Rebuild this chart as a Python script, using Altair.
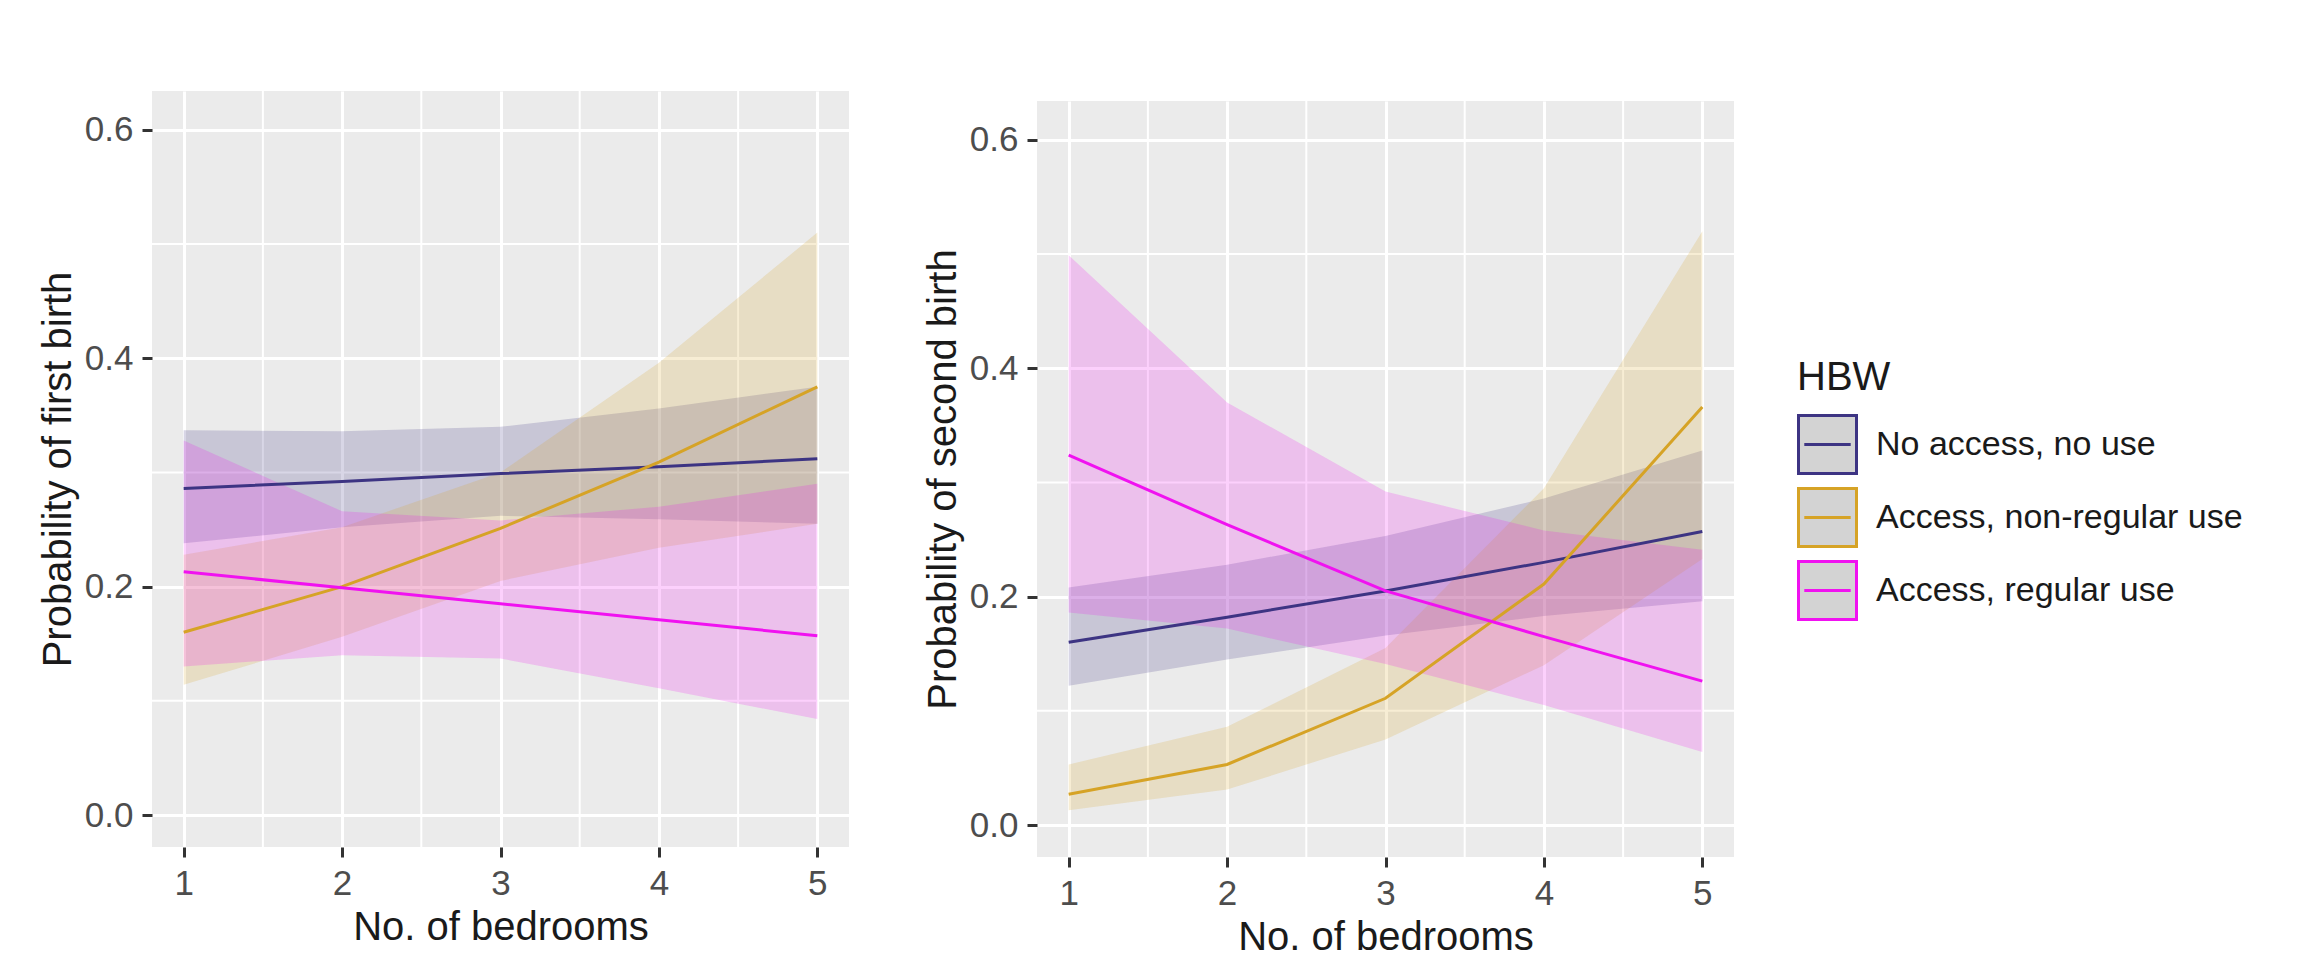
import altair as alt
import pandas as pd

# ---------------- data ----------------
groups = ["No access, no use", "Access, non-regular use", "Access, regular use"]
colors = ["#3D3483", "#D6A326", "#F012F0"]
bedrooms = [1, 2, 3, 4, 5]

y_ticks = [0.0, 0.2, 0.4, 0.6]
minor_x = [1.5, 2.5, 3.5, 4.5]
minor_y = [0.1, 0.3, 0.5]

# Panel 1: probability of first birth
first_noaccess_fit = [0.286, 0.292, 0.299, 0.305, 0.312]
first_noaccess_lo = [0.238, 0.252, 0.262, 0.259, 0.255]
first_noaccess_hi = [0.337, 0.336, 0.340, 0.356, 0.375]

first_nonreg_fit = [0.160, 0.200, 0.251, 0.309, 0.375]
first_nonreg_lo = [0.114, 0.156, 0.205, 0.234, 0.255]
first_nonreg_hi = [0.228, 0.252, 0.300, 0.396, 0.510]

first_reg_fit = [0.213, 0.199, 0.185, 0.171, 0.157]
first_reg_lo = [0.130, 0.140, 0.137, 0.111, 0.084]
first_reg_hi = [0.328, 0.266, 0.258, 0.270, 0.290]

# Panel 2: probability of second birth
second_noaccess_fit = [0.160, 0.182, 0.205, 0.230, 0.257]
second_noaccess_lo = [0.122, 0.145, 0.166, 0.183, 0.196]
second_noaccess_hi = [0.208, 0.228, 0.253, 0.286, 0.328]

second_nonreg_fit = [0.027, 0.053, 0.111, 0.211, 0.366]
second_nonreg_lo = [0.013, 0.031, 0.075, 0.140, 0.233]
second_nonreg_hi = [0.053, 0.086, 0.155, 0.295, 0.520]

second_reg_fit = [0.324, 0.263, 0.205, 0.165, 0.126]
second_reg_lo = [0.186, 0.172, 0.141, 0.105, 0.064]
second_reg_hi = [0.499, 0.370, 0.292, 0.258, 0.241]


def make_df(series):
    rows = []
    for g, (fit, lo, hi) in zip(groups, series):
        for x, f, l, h in zip(bedrooms, fit, lo, hi):
            rows.append({"group": g, "x": x, "fit": f, "lo": l, "hi": h})
    return pd.DataFrame(rows)


df_first = make_df([
    (first_noaccess_fit, first_noaccess_lo, first_noaccess_hi),
    (first_nonreg_fit, first_nonreg_lo, first_nonreg_hi),
    (first_reg_fit, first_reg_lo, first_reg_hi),
])
df_second = make_df([
    (second_noaccess_fit, second_noaccess_lo, second_noaccess_hi),
    (second_nonreg_fit, second_nonreg_lo, second_nonreg_hi),
    (second_reg_fit, second_reg_lo, second_reg_hi),
])

FONT = "Liberation Sans"


def x_enc(field):
    return alt.X(field, type="quantitative",
                 scale=alt.Scale(domain=[0.8, 5.2], nice=False, zero=False),
                 axis=alt.Axis(values=bedrooms, format="d", title="No. of bedrooms"))


def y_enc(field, ytitle, **kw):
    return alt.Y(field, type="quantitative",
                 scale=alt.Scale(domain=[-0.028, 0.634], nice=False, zero=False),
                 axis=alt.Axis(values=y_ticks, format=".1f", title=ytitle), **kw)


legend = alt.Legend(
    title="HBW",
    orient="none",
    legendX=1645,
    legendY=267,
    padding=0,
    titleFontSize=40,
    titleFontWeight="normal",
    titleColor="#1A1A1A",
    titleFont=FONT,
    titlePadding=16,
    labelFontSize=34,
    labelColor="#1A1A1A",
    labelFont=FONT,
    labelOffset=18,
    labelLimit=600,
    rowPadding=2,
    symbolType="M-1,-1H1V1H-1Z M-0.8,0H0.8",
    symbolSize=3364,
    symbolStrokeWidth=3,
    symbolFillColor="#D3D3D3",
)

# fill scale: same mapping as the stroke scale, listed in reverse order so that
# its (disabled) legend is not merged into the stroke legend
fill_scale = alt.Scale(domain=groups[::-1], range=colors[::-1])
stroke_scale = alt.Scale(domain=groups, range=colors)


def panel(df, ytitle):
    minor_v = alt.Chart(pd.DataFrame({"x": minor_x})).mark_rule(
        color="white", strokeWidth=2
    ).encode(x=x_enc("x"))
    minor_h = alt.Chart(pd.DataFrame({"y": minor_y})).mark_rule(
        color="white", strokeWidth=2
    ).encode(y=y_enc("y", ytitle))

    base = alt.Chart(df)
    band = base.mark_area(opacity=0.2).encode(
        x=x_enc("x"),
        y=y_enc("lo", ytitle, stack=None),
        y2="hi:Q",
        fill=alt.Fill("group:N", scale=fill_scale, legend=None),
    )
    line = base.mark_line(strokeWidth=3).encode(
        x=x_enc("x"),
        y=y_enc("fit", ytitle),
        stroke=alt.Stroke("group:N", scale=stroke_scale, legend=legend),
    )
    return alt.layer(minor_v, minor_h, band, line).properties(width=697, height=756)


left = panel(df_first, "Probability of first birth")
right = panel(df_second, "Probability of second birth")

# the right panel sits slightly lower in the reference: an invisible spacer above it
spacer = alt.Chart(pd.DataFrame({"a": [0]})).mark_point(opacity=0).properties(
    width=697, height=1, view=alt.ViewBackground(fill="white", stroke=None)
)
right_col = alt.vconcat(spacer, right, spacing=5)

chart = alt.hconcat(left, right_col, spacing=73).configure(
    font=FONT,
    padding={"left": 30, "top": 80, "right": 5, "bottom": 5},
    background="white",
).configure_view(
    fill="#EBEBEB", stroke=None
).configure_axis(
    grid=True,
    gridColor="white",
    gridWidth=3,
    domain=False,
    tickColor="#333333",
    tickWidth=3,
    tickSize=10,
    labelFontSize=35,
    labelColor="#4D4D4D",
    labelFont=FONT,
    labelPadding=9,
    titleFontSize=40,
    titleFont=FONT,
    titleColor="#1A1A1A",
    titleFontWeight="normal",
    titlePadding=6,
)

chart.save("out.html", embed_options={"renderer": "svg", "actions": False})
